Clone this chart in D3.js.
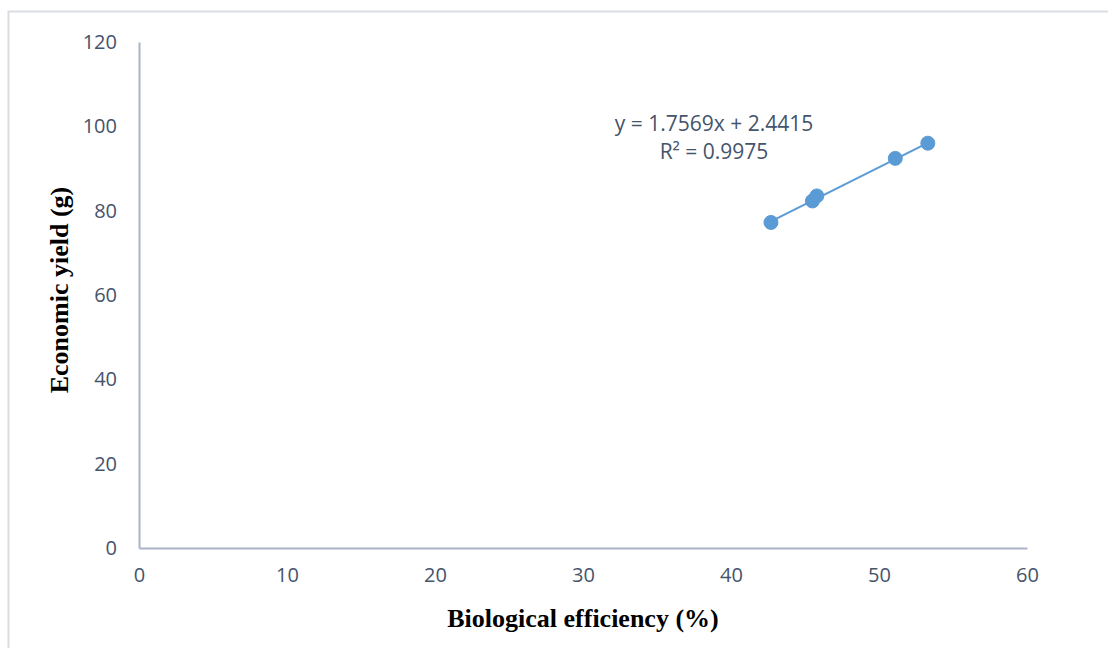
<!DOCTYPE html>
<html>
<head>
<meta charset="UTF-8">
<title>Economic yield vs biological efficiency</title>
<script src="https://cdn.jsdelivr.net/npm/d3@7"></script>
<style>
  html, body { margin: 0; padding: 0; background: #fff; }
</style>
</head>
<body>
<div id="app"></div>
<script>
    // data
    var efficiency = [42.7, 45.5, 45.8, 51.1, 53.3];
    var yieldG = [77.2, 82.3, 83.5, 92.4, 96.0];
    var xTicks = [0, 10, 20, 30, 40, 50, 60];
    var yTicks = [0, 20, 40, 60, 80, 100, 120];
    var slope = 1.7569, intercept = 2.4415;
    var eqLines = ['y = 1.7569x + 2.4415', 'R² = 0.9975'];

    var W = 1108, H = 648;
    var m = {left: 139, right: 1027, top: 42, bottom: 548};

    var svg = d3.select('#app').append('svg')
        .attr('width', W).attr('height', H);

    // chart area border
    svg.append('rect')
        .attr('x', 8.5).attr('y', 11.5)
        .attr('width', W + 10).attr('height', H + 10)
        .attr('fill', 'none').attr('stroke', '#d9dde2').attr('stroke-width', 2);

    var x = d3.scaleLinear().domain([0, 60]).range([m.left, m.right]);
    var y = d3.scaleLinear().domain([0, 120]).range([m.bottom, m.top]);

    var labelFont = '"Open Sans", "Noto Sans", sans-serif';

    // axes (no tick marks)
    var xAxis = svg.append('g').attr('transform', 'translate(0,' + m.bottom + ')')
        .call(d3.axisBottom(x).tickValues(xTicks).tickSize(0).tickPadding(20));
    var yAxis = svg.append('g').attr('transform', 'translate(' + m.left + ',0)')
        .call(d3.axisLeft(y).tickValues(yTicks).tickSize(0).tickPadding(22));

    [xAxis, yAxis].forEach(function(g){
        g.select('.domain').attr('stroke', '#aab3c7').attr('stroke-width', 2);
        g.selectAll('text')
            .attr('fill', '#44546a')
            .style('font-family', labelFont)
            .style('font-size', '20px');
    });

    // trend line over data range
    var xmin = d3.min(efficiency), xmax = d3.max(efficiency);
    svg.append('line')
        .attr('x1', x(xmin)).attr('y1', y(slope * xmin + intercept))
        .attr('x2', x(xmax)).attr('y2', y(slope * xmax + intercept))
        .attr('stroke', '#5b9bd5').attr('stroke-width', 2);

    // points
    svg.selectAll('circle.pt')
        .data(efficiency)
        .enter()
        .append('circle')
        .attr('class', 'pt')
        .attr('cx', function(d){ return x(d); })
        .attr('cy', function(d, i){ return y(yieldG[i]); })
        .attr('r', 7)
        .attr('fill', '#5b9bd5')
        .attr('stroke', '#5b9bd5')
        .attr('stroke-width', 1);

    // regression equation
    svg.append('g').selectAll('text')
        .data(eqLines)
        .enter()
        .append('text')
        .attr('x', 714)
        .attr('y', function(d, i){ return 131 + i * 28; })
        .attr('text-anchor', 'middle')
        .attr('fill', '#44546a')
        .style('font-family', labelFont)
        .style('font-size', '21px')
        .text(function(d){ return d; });

    // axis titles
    svg.append('text')
        .attr('x', 583).attr('y', 627)
        .attr('text-anchor', 'middle')
        .style('font-family', '"Liberation Serif", "Times New Roman", serif')
        .style('font-weight', 'bold')
        .style('font-size', '26px')
        .text('Biological efficiency (%)');

    svg.append('text')
        .attr('transform', 'translate(68,290) rotate(-90)')
        .attr('text-anchor', 'middle')
        .style('font-family', '"Liberation Serif", "Times New Roman", serif')
        .style('font-weight', 'bold')
        .style('font-size', '26px')
        .text('Economic yield (g)');
</script>
</body>
</html>
